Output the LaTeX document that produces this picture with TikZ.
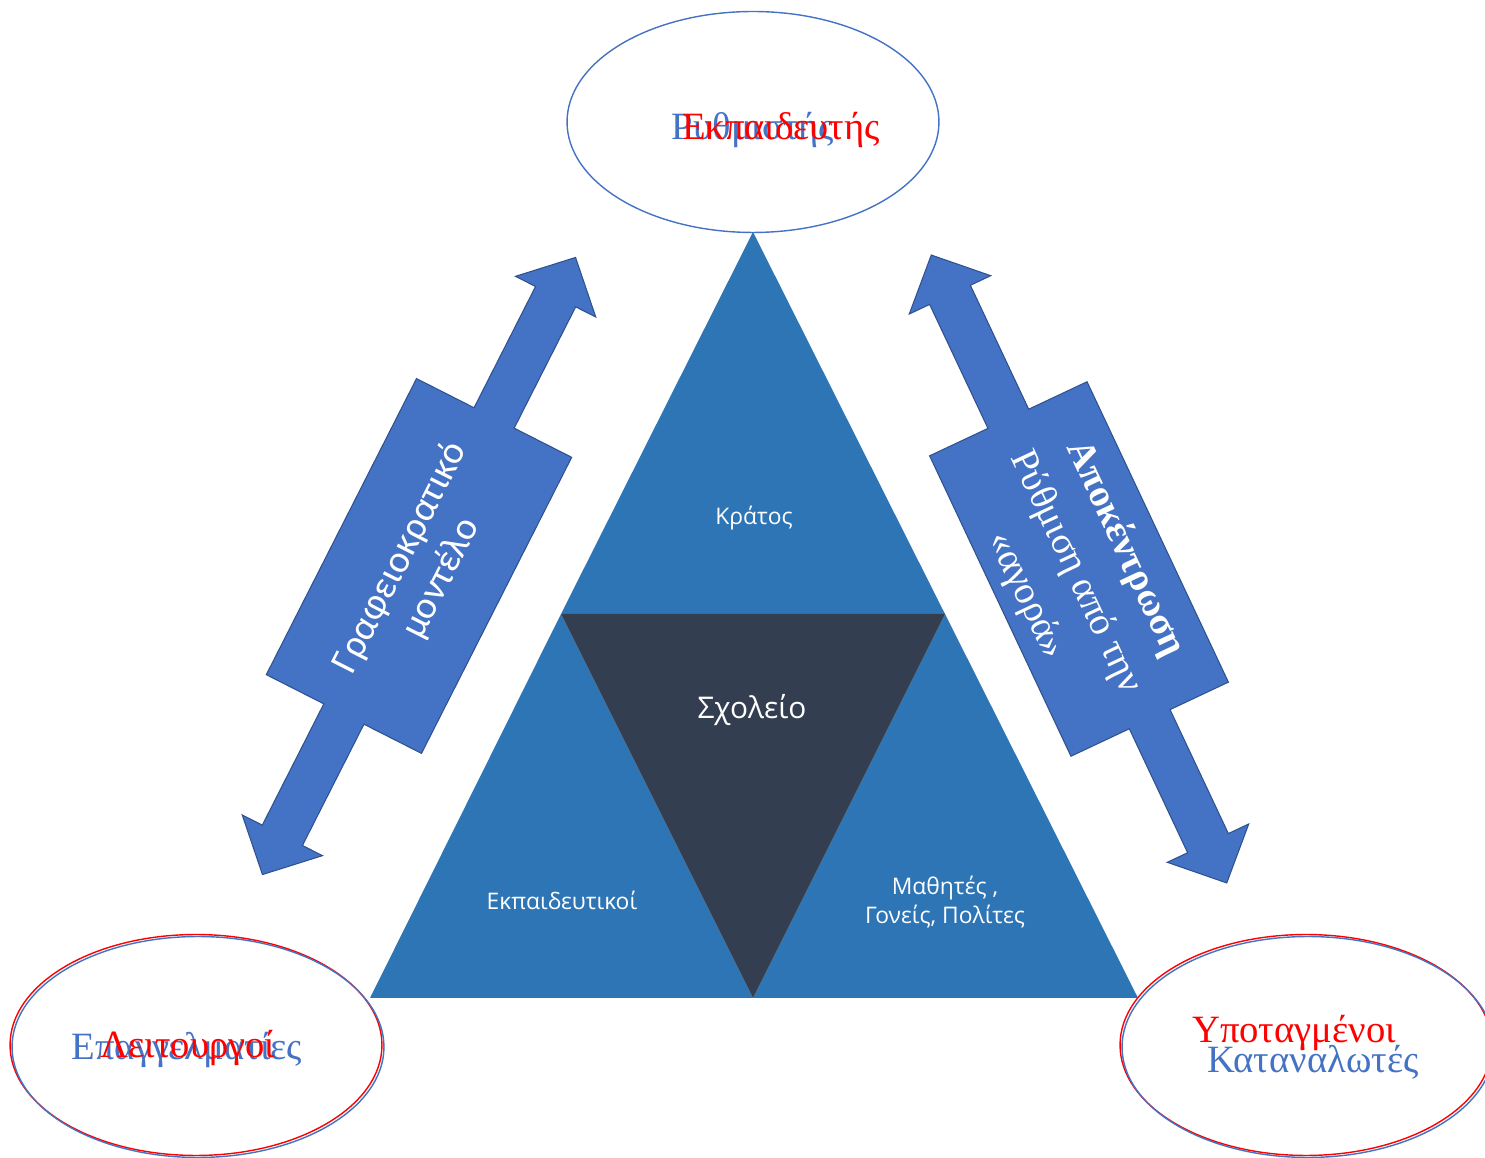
\documentclass[tikz,border=0pt]{standalone}
\usepackage{fontspec}
\setmainfont{Liberation Serif}
\newfontfamily\trifont{Open Sans}
\newfontfamily\arrowfont{Carlito}
\usetikzlibrary{shapes.geometric}

\definecolor{triblue}{HTML}{2E75B6}
\definecolor{schooldark}{HTML}{333F50}
\definecolor{arrowblue}{HTML}{4472C4}
\definecolor{arrowedge}{HTML}{2F528F}
\definecolor{ellblue}{HTML}{4472C4}
\definecolor{ellred}{HTML}{FF0000}

\begin{document}
\begin{tikzpicture}[x=0.02cm, y=0.02cm,
  tripart/.style={fill=triblue},
  school/.style={fill=schooldark},
  bigarrow/.style={fill=arrowblue, draw=arrowedge, line width=0.6pt, line join=miter},
  role/.style={ellipse, minimum width=7.44cm, minimum height=4.42cm, line width=0.8pt},
  trilabel/.style={text=white, font=\trifont\fontsize{13}{17}\selectfont, align=center},
  oldword/.style={text=ellred, anchor=base, font=\fontsize{22}{26}\selectfont},
  newword/.style={text=ellblue, anchor=base, font=\fontsize{22}{26}\selectfont}]

	\useasboundingbox (0,0) rectangle (1485,1157);

	% Role ellipses
	\node[role, draw=ellblue] (state) at (753,1035) {};
	\node[role, draw=ellred] (teachersold) at (196,112) {};
	\node[role, draw=ellblue] (teachers) at (198,110) {};
	\node[role, draw=ellred] (pupilsold) at (1306,112) {};
	\node[role, draw=ellblue] (pupils) at (1308,110) {};

	% Old and new roles
	\node[newword] (regulator) at (753,1017) {Ρυθμιστής};
	\node[oldword] (educator) at (781,1017) {Εκπαιδευτής};
	\node[newword] (professionals) at (187,97) {Επαγγελματίες};
	\node[oldword] (servants) at (188,99) {Λειτουργοί};
	\node[oldword] (subjects) at (1294,114) {Υποταγμένοι};
	\node[newword] (consumers) at (1313,85) {Καταναλωτές};

	% Triangle corners
	\coordinate (apex) at (753,925);
	\coordinate (midL) at (561,543);
	\coordinate (midR) at (945,543);
	\coordinate (baseL) at (370,159);
	\coordinate (baseM) at (753,159);
	\coordinate (baseR) at (1138,159);

	% Triangle parts
	\fill[tripart] (apex) -- (midR) -- (midL) -- cycle;
	\fill[tripart] (midL) -- (baseM) -- (baseL) -- cycle;
	\fill[tripart] (midR) -- (baseR) -- (baseM) -- cycle;
	\fill[school] (midL) -- (midR) -- (baseM) -- cycle;

	\node[trilabel] (kratos) at (754,639) {Κράτος};
	\node[trilabel, font=\trifont\fontsize{17}{20}\selectfont] (scholeio) at (752,447) {Σχολείο};
	\node[trilabel] (ekp) at (562,257) {Εκπαιδευτικοί};
	\node[trilabel] (mathites) at (945,255) {Μαθητές ,\\Γονείς, Πολίτες};

	% Left double arrow
	\begin{scope}[shift={(419,591)}, rotate=63.1]
		\draw[bigarrow] (346,0) -- (302,45) -- (302,22.5) -- (166,22.5) -- (166,87)
			-- (-166,87) -- (-166,22.5) -- (-302,22.5) -- (-302,45) -- (-346,0)
			-- (-302,-45) -- (-302,-22.5) -- (-166,-22.5) -- (-166,-87) -- (166,-87)
			-- (166,-22.5) -- (302,-22.5) -- (302,-45) -- cycle;
	\end{scope}
	\node[rotate=63.1, text=white, align=center, font=\arrowfont\fontsize{22}{26}\selectfont] (bureau) at (421,589) {Γραφειοκρατικό\\μοντέλο};

	% Right double arrow
	\begin{scope}[shift={(1079,588)}, rotate=-64.8]
		\draw[bigarrow] (347,0) -- (303,45) -- (303,22.5) -- (166,22.5) -- (166,87)
			-- (-166,87) -- (-166,22.5) -- (-303,22.5) -- (-303,45) -- (-347,0)
			-- (-303,-45) -- (-303,-22.5) -- (-166,-22.5) -- (-166,-87) -- (166,-87)
			-- (166,-22.5) -- (303,-22.5) -- (303,-45) -- cycle;
	\end{scope}
	\node[rotate=-64.8, text=white, align=center, font=\fontsize{22}{31}\selectfont] (market) at (1076,585) {\textbf{Αποκέντρωση}\\Ρύθμιση από την\\«αγορά»};

\end{tikzpicture}
\end{document}
